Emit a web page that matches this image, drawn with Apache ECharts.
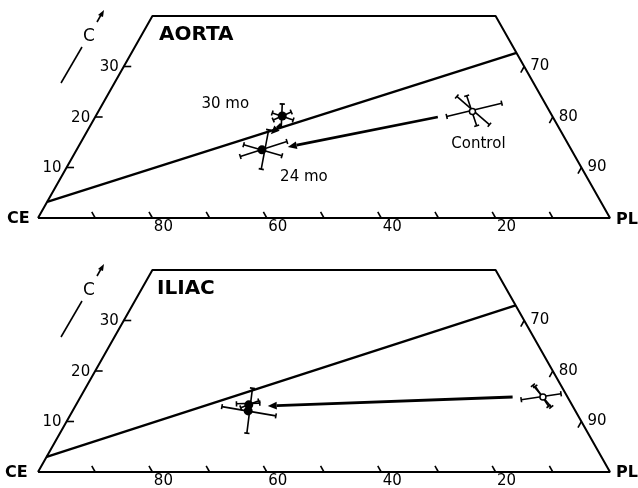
<!DOCTYPE html>
<html>
<head>
<meta charset="utf-8">
<title>Aorta / Iliac lipid composition</title>
<script src="https://cdn.jsdelivr.net/npm/echarts@6/dist/echarts.min.js"></script>
<style>
  html, body { margin: 0; padding: 0; background: #fff; }
  #chart { width: 638px; height: 488px; }
</style>
</head>
<body>
<div id="chart"></div>
<script>
// composition in %: CE + C + PL = 100 (PL is what is left)
var ceTicks = [90, 80, 70, 60, 50, 40, 30, 20, 10];
var ceLabels = [80, 60, 40, 20];
var cLabels = [10, 20, 30];
var plLabels = [70, 80, 90];
var cTop = 40; // the triangle is cut off at C = 40

var groups = ['Control', '24 mo', '30 mo'];

var aortaCE = [13.5, 54.1, 47.2];
var aortaC = [21.1, 13.5, 20.2];
// error bars, each [dCE1, dC1, dCE2, dC2] away from the mean
var aortaBars = [
  [[4.99, -0.99, -5.94, 1.64], [1.25, 2.97, -1.65, -2.63], [-0.55, 3.11, 0.67, -2.83]],
  [[4.45, -1.33, -5.19, 1.64], [2.7, 0.99, -2.9, -1.19], [-3.15, 3.96, 2.03, -3.82]],
  [[-1.19, 2.38, 1.26, -2.18], [1.45, 0.59, -1.52, -0.79], [1.97, -0.79, -1.97, 0.79]]
];

var iliacCE = [4.3, 57.2, 56.5];
var iliacC = [14.85, 12.1, 13.3];
var iliacBars = [
  [[4.06, -0.53, -3.48, 0.65], [0.59, 2.32, -0.46, -1.98], [0.29, 2.12, -0.08, -1.84]],
  [[-3.0, 4.5, 2.44, -4.42], [4.17, 0.85, -4.34, -0.99]],
  [[2.05, 0.2, -2.09, 0.34], [1.7, -0.59, -2.15, 0.79]]
];

// reference line, CE and C at both ends
var aortaLineCE = [96.8, 0];
var aortaLineC = [3.2, 32.7];
var iliacLineCE = [97.0, 0];
var iliacLineC = [3.0, 33.0];

// arrows [fromCE, fromC, toCE, toC]
var aortaArrows = [[20.1, 20.0, 49.3, 14.06], [48.2, 18.6, 51.0, 16.6]];
var iliacArrows = [[9.6, 14.85, 53.3, 13.07]];

var FONT = '"DejaVu Sans", sans-serif';
var INK = '#000';

// ternary (CE, C) -> plot coords (u, C)
function uc(ce, c) {
  return [100 - ce - c / 2, c];
}

function segItem(width) {
  return function (params, api) {
    var a = api.coord([api.value(0), api.value(1)]);
    var b = api.coord([api.value(2), api.value(3)]);
    return {
      type: 'line',
      shape: { x1: a[0], y1: a[1], x2: b[0], y2: b[1] },
      style: { stroke: INK, lineWidth: width }
    };
  };
}

function barItem(params, api) {
  var a = api.coord([api.value(0), api.value(1)]);
  var b = api.coord([api.value(2), api.value(3)]);
  var dx = b[0] - a[0], dy = b[1] - a[1];
  var len = Math.sqrt(dx * dx + dy * dy) || 1;
  var px = -dy / len * 2.6, py = dx / len * 2.6;
  var st = { stroke: INK, lineWidth: 1.6 };
  return {
    type: 'group',
    children: [
      { type: 'line', shape: { x1: a[0], y1: a[1], x2: b[0], y2: b[1] }, style: st },
      { type: 'line', shape: { x1: a[0] - px, y1: a[1] - py, x2: a[0] + px, y2: a[1] + py }, style: st },
      { type: 'line', shape: { x1: b[0] - px, y1: b[1] - py, x2: b[0] + px, y2: b[1] + py }, style: st }
    ]
  };
}

function arrowItem(params, api) {
  var a = api.coord([api.value(0), api.value(1)]);
  var b = api.coord([api.value(2), api.value(3)]);
  var dx = b[0] - a[0], dy = b[1] - a[1];
  var len = Math.sqrt(dx * dx + dy * dy) || 1;
  var ux = dx / len, uy = dy / len;
  var head = Math.min(9, len * 0.6), half = 3.8;
  var bx = b[0] - ux * head, by = b[1] - uy * head;
  return {
    type: 'group',
    children: [
      { type: 'line', shape: { x1: a[0], y1: a[1], x2: bx, y2: by }, style: { stroke: INK, lineWidth: 2.8 } },
      {
        type: 'polygon',
        shape: { points: [[b[0], b[1]], [bx - uy * half, by + ux * half], [bx + uy * half, by - ux * half]] },
        style: { fill: INK }
      }
    ]
  };
}

function textItem(list, align, dx, dy) {
  return function (params, api) {
    var p = api.coord([api.value(0), api.value(1)]);
    return {
      type: 'text',
      x: p[0] + dx,
      y: p[1] + dy,
      style: {
        text: String(list[params.dataIndex]),
        align: align,
        verticalAlign: 'middle',
        font: '15px ' + FONT,
        fill: INK
      }
    };
  };
}

var labelOffsets = { 'Control': [6, 33], '24 mo': [42, 27], '30 mo': [-57, -12] };

function panelSeries(idx, ceVals, cVals, bars, lineCE, lineC, arrows, showNames) {
  var axes = { xAxisIndex: idx, yAxisIndex: idx };
  var out = [];

  // outline of the truncated triangle
  out.push(Object.assign({
    type: 'line', silent: true, symbol: 'none', z: 2,
    lineStyle: { color: INK, width: 2 },
    data: [uc(100, 0), uc(100 - cTop, cTop), uc(0, cTop), uc(0, 0), uc(100, 0)]
  }, axes));

  // ticks on the three edges
  var ticks = [];
  ceTicks.forEach(function (ce) { ticks.push(uc(ce, 0).concat(uc(ce, 1.2))); });
  cLabels.forEach(function (c) { ticks.push(uc(100 - c, c).concat(uc(100 - c - 1.3, c))); });
  plLabels.forEach(function (pl) { var c = 100 - pl; ticks.push(uc(0, c).concat(uc(1.2, c - 1.2))); });
  out.push(Object.assign({ type: 'custom', silent: true, clip: false, renderItem: segItem(1.6), data: ticks }, axes));

  // tick labels
  out.push(Object.assign({ type: 'custom', silent: true, clip: false,
    renderItem: textItem(ceLabels, 'center', 11, 9),
    data: ceLabels.map(function (ce) { return uc(ce, 0); }) }, axes));
  out.push(Object.assign({ type: 'custom', silent: true, clip: false,
    renderItem: textItem(cLabels, 'right', -5, 1),
    data: cLabels.map(function (c) { return uc(100 - c, c); }) }, axes));
  out.push(Object.assign({ type: 'custom', silent: true, clip: false,
    renderItem: textItem(plLabels, 'left', 6, 0),
    data: plLabels.map(function (pl) { return uc(0, 100 - pl); }) }, axes));

  // reference line
  out.push(Object.assign({ type: 'custom', silent: true, clip: false, renderItem: segItem(2.4),
    data: [uc(lineCE[0], lineC[0]).concat(uc(lineCE[1], lineC[1]))] }, axes));

  // arrows
  out.push(Object.assign({ type: 'custom', silent: true, clip: false, renderItem: arrowItem,
    data: arrows.map(function (a) { return uc(a[0], a[1]).concat(uc(a[2], a[3])); }) }, axes));

  // error bars and means
  groups.forEach(function (g, i) {
    var data = bars[i].map(function (b) {
      return uc(ceVals[i] + b[0], cVals[i] + b[1]).concat(uc(ceVals[i] + b[2], cVals[i] + b[3]));
    });
    out.push(Object.assign({ type: 'custom', name: g, silent: true, clip: false, z: 3,
      renderItem: barItem, data: data }, axes));
  });

  out.push(Object.assign({
    type: 'scatter', silent: true, z: 5,
    data: groups.map(function (g, i) {
      var open = g === 'Control';
      return {
        name: g,
        value: uc(ceVals[i], cVals[i]),
        symbol: 'circle',
        symbolSize: open ? 6 : 9,
        itemStyle: open
          ? { color: '#fff', borderColor: INK, borderWidth: 1.5, opacity: 1 }
          : { color: INK, opacity: 1 },
        label: {
          show: showNames,
          position: 'inside',
          offset: labelOffsets[g],
          formatter: '{b}',
          color: INK,
          fontSize: 15,
          fontFamily: FONT
        }
      };
    })
  }, axes));

  return out;
}

function cArrow(top) {
  return [
    { type: 'line', shape: { x1: 61, y1: top + 69, x2: 82, y2: top + 33 }, style: { stroke: INK, lineWidth: 1.6 } },
    { type: 'text', x: 83, y: top + 14, style: { text: 'C', font: '17px ' + FONT, fill: INK } },
    { type: 'line', shape: { x1: 97, y1: top + 8, x2: 101, y2: top + 1 }, style: { stroke: INK, lineWidth: 1.6 } },
    { type: 'polygon', shape: { points: [[104, top - 4], [98, top + 1], [103, top + 3]] }, style: { fill: INK } }
  ];
}

var chart = echarts.init(document.getElementById('chart'), null, { renderer: 'canvas' });

var option = {
  backgroundColor: '#ffffff',
  animation: false,
  grid: [
    { left: 38, width: 572, top: 16, height: 202 },
    { left: 38, width: 572, top: 270, height: 202 }
  ],
  xAxis: [
    { type: 'value', gridIndex: 0, min: 0, max: 100, show: false },
    { type: 'value', gridIndex: 1, min: 0, max: 100, show: false }
  ],
  yAxis: [
    { type: 'value', gridIndex: 0, min: 0, max: cTop, show: false },
    { type: 'value', gridIndex: 1, min: 0, max: cTop, show: false }
  ],
  graphic: [
    { type: 'text', x: 159, y: 25, style: { text: 'AORTA', font: 'bold 20px ' + FONT, fill: INK } },
    { type: 'text', x: 157, y: 279, style: { text: 'ILIAC', font: 'bold 20px ' + FONT, fill: INK } },
    { type: 'text', x: 7, y: 211, style: { text: 'CE', font: 'bold 16px ' + FONT, fill: INK } },
    { type: 'text', x: 5, y: 465, style: { text: 'CE', font: 'bold 16px ' + FONT, fill: INK } },
    { type: 'text', x: 616, y: 212, style: { text: 'PL', font: 'bold 16px ' + FONT, fill: INK } },
    { type: 'text', x: 616, y: 465, style: { text: 'PL', font: 'bold 16px ' + FONT, fill: INK } }
  ].concat(cArrow(14), cArrow(268)),
  series: panelSeries(0, aortaCE, aortaC, aortaBars, aortaLineCE, aortaLineC, aortaArrows, true)
    .concat(panelSeries(1, iliacCE, iliacC, iliacBars, iliacLineCE, iliacLineC, iliacArrows, false))
};

chart.setOption(option);
</script>
</body>
</html>
